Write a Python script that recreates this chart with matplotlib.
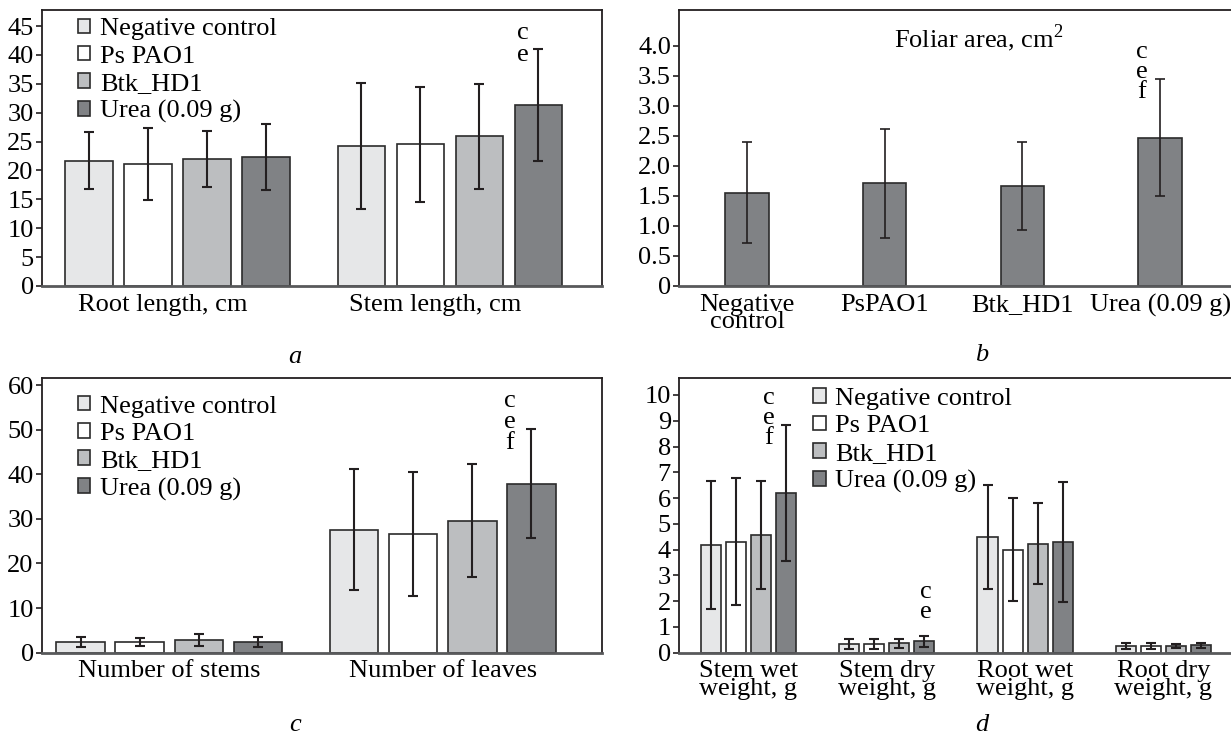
import matplotlib
matplotlib.use('Agg')
import matplotlib.pyplot as plt
from matplotlib.patches import Patch
import numpy as np

plt.rcParams['font.family'] = ['Liberation Serif', 'DejaVu Serif']
plt.rcParams['mathtext.fontset'] = 'custom'
plt.rcParams['mathtext.rm'] = 'Liberation Serif'

# ---------------- data ----------------
treatments = ['Negative control', 'Ps PAO1', 'Btk_HD1', 'Urea (0.09 g)']
colors = ['#e6e7e8', '#ffffff', '#bcbec0', '#808285']

# panel a: rows = groups, columns = treatments
a_groups = ['Root length, cm', 'Stem length, cm']
a_means = [[21.7, 21.1, 22.0, 22.3],
           [24.3, 24.5, 25.9, 31.3]]
a_sd = [[4.95, 6.3, 4.9, 5.7],
        [10.9, 10.0, 9.05, 9.75]]
a_letters = ['c', 'e']            # Stem length, Urea

# panel b
b_categories = ['Negative\ncontrol', 'PsPAO1', 'Btk_HD1', 'Urea (0.09 g)']
b_means = [1.556, 1.711, 1.667, 2.472]
b_sd = [0.84, 0.91, 0.74, 0.98]
b_letters = ['c', 'e', 'f']       # Urea
b_title = 'Foliar area, cm$^2$'

# panel c
c_groups = ['Number of stems', 'Number of leaves']
c_means = [[2.4, 2.4, 2.8, 2.4],
           [27.6, 26.7, 29.6, 37.9]]
c_sd = [[1.2, 0.86, 1.3, 1.2],
        [13.55, 13.9, 12.65, 12.15]]
c_letters = ['c', 'e', 'f']       # Number of leaves, Urea

# panel d
d_groups = ['Stem wet\nweight, g', 'Stem dry\nweight, g',
            'Root wet\nweight, g', 'Root dry\nweight, g']
d_means = [[4.17, 4.31, 4.58, 6.18],
           [0.34, 0.34, 0.36, 0.44],
           [4.49, 4.00, 4.22, 4.29],
           [0.26, 0.26, 0.26, 0.28]]
d_sd = [[2.49, 2.45, 2.09, 2.64],
        [0.20, 0.21, 0.16, 0.22],
        [2.03, 2.00, 1.57, 2.32],
        [0.13, 0.13, 0.09, 0.11]]
d_letters_wet = ['c', 'e', 'f']   # Stem wet, Urea
d_letters_dry = ['c', 'e']        # Stem dry, Urea

# ---------------- style ----------------
FS = 19
EDGE = '#2b2b2b'
ERR = '#231f20'
W, H = 1231, 734

fig = plt.figure(figsize=(W / 100, H / 100), dpi=100)


def px_axes(left, top, right, bottom):
    return fig.add_axes([left / W, 1 - bottom / H, (right - left) / W, (bottom - top) / H])


def style(ax, right_spine=True):
    for s in ['top', 'left', 'right']:
        ax.spines[s].set_color('#231f20')
        ax.spines[s].set_linewidth(1.3)
    ax.spines['right'].set_visible(right_spine)
    ax.spines['bottom'].set_color('#58595b')
    ax.spines['bottom'].set_linewidth(2.0)
    ax.tick_params(axis='y', direction='out', length=4, width=1.2, color='#231f20',
                   pad=2.0, labelsize=FS)
    ax.tick_params(axis='x', length=0, pad=5.5, labelsize=FS)


def grouped(ax, means, sds, width, step, elw=1.5):
    m = np.array(means)
    s = np.array(sds)
    x = np.arange(m.shape[0])
    for j in range(m.shape[1]):
        ax.bar(x + (j - 1.5) * step, m[:, j], width, yerr=s[:, j],
               color=colors[j], edgecolor=EDGE, linewidth=1.2, zorder=2,
               error_kw=dict(ecolor=ERR, elinewidth=elw, capsize=3.6, capthick=elw))
    return x


def letters(ax, xb, ytop, lets, dx, dy0, dstep):
    for i, L in enumerate(lets):
        ax.annotate(L, xy=(xb, ytop), xytext=(dx, dy0 - i * dstep),
                    textcoords='offset pixels', ha='center', va='center', fontsize=FS)


def legend(ax, fx, fy):
    handles = [Patch(facecolor=c, edgecolor=EDGE, linewidth=1.2) for c in colors]
    ax.legend(handles, treatments, loc='upper left', bbox_to_anchor=(fx, fy),
              frameon=False, fontsize=FS, handlelength=0.47, handleheight=0.47,
              handletextpad=0.36, labelspacing=0.2, borderaxespad=0, borderpad=0)


# ---------------- panel a ----------------
axa = px_axes(42, 10, 601.7, 286)
style(axa)
sa = 0.2168
xa = grouped(axa, a_means, a_sd, 0.1746, sa)
axa.set_xlim(-0.4987, 1.558)
axa.set_ylim(0, 47.77)
axa.set_yticks(np.arange(0, 46, 5))
axa.set_xticks(xa - 0.055)
axa.set_xticklabels(a_groups)
letters(axa, 1 + 1.5 * sa, a_means[1][3] + a_sd[1][3], a_letters, -15, 16, 22)
legend(axa, 0.064, 0.97)

# ---------------- panel b ----------------
axb = px_axes(679.3, 10, 1231, 286)
style(axb, right_spine=False)
xb = np.arange(len(b_categories))
axb.bar(xb, b_means, 0.315, yerr=b_sd, color='#808285', edgecolor=EDGE, linewidth=1.2,
        zorder=2, error_kw=dict(ecolor=ERR, elinewidth=1.2, capsize=3.6, capthick=1.2))
axb.set_xlim(-0.4917, 3.515)
axb.set_ylim(0, 4.6)
bt = np.arange(0, 4.01, 0.5)
axb.set_yticks(bt)
axb.set_yticklabels(['0'] + ['%.1f' % v for v in bt[1:]])
axb.set_xticks(xb)
axb.set_xticklabels(b_categories)
for lbl in axb.get_xticklabels():
    lbl.set_linespacing(0.75)
axb.text(0.543, 0.899, b_title, transform=axb.transAxes, ha='center', va='center', fontsize=FS)
letters(axb, xb[3], b_means[3] + b_sd[3], b_letters, -18, 27, 20)

# ---------------- panel c ----------------
axc = px_axes(42, 377.7, 601.7, 652.7)
style(axc)
sc = 0.216
xc = grouped(axc, c_means, c_sd, 0.177, sc)
axc.set_xlim(-0.465, 1.581)
axc.set_ylim(0, 61.64)
axc.set_yticks(np.arange(0, 61, 10))
axc.set_xticks(xc)
axc.set_xticklabels(c_groups)
letters(axc, 1 + 1.5 * sc, c_means[1][3] + c_sd[1][3], c_letters, -22, 28, 21)
legend(axc, 0.064, 0.935)

# ---------------- panel d ----------------
axd = px_axes(679.3, 377.7, 1231, 652.7)
style(axd, right_spine=False)
sd_ = 0.181
xd = grouped(axd, d_means, d_sd, 0.145, sd_)
axd.set_xlim(-0.4986, 3.488)
axd.set_ylim(0, 10.67)
axd.set_yticks(np.arange(0, 11, 1))
axd.set_xticks(xd)
axd.set_xticklabels(d_groups)
for lbl in axd.get_xticklabels():
    lbl.set_linespacing(0.75)
letters(axd, 0 + 1.5 * sd_, d_means[0][3] + d_sd[0][3], d_letters_wet, -17, 27, 20)
letters(axd, 1 + 1.5 * sd_, d_means[1][3] + d_sd[1][3], d_letters_dry, 2, 44, 20)
legend(axd, 0.243, 0.962)

# ---------------- panel labels ----------------
for lab, (px, py) in zip(['a', 'b', 'c', 'd'],
                         [(295, 357), (982, 355), (295, 725), (982, 725)]):
    fig.text(px / W, 1 - py / H, lab, ha='center', va='center', fontsize=FS, style='italic')

fig.savefig('out.png', dpi=100)
